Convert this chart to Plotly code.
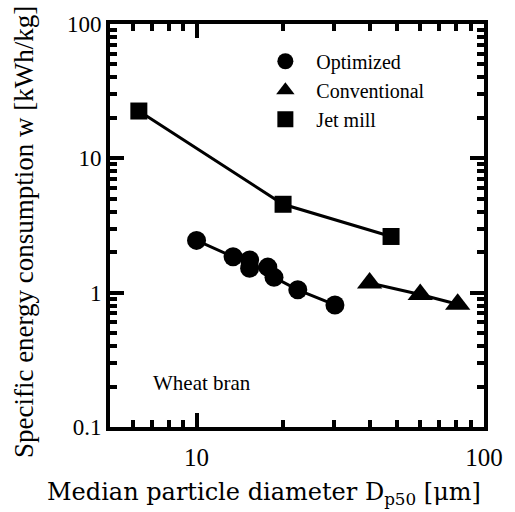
import plotly.graph_objects as go

# Data
opt_x = [10.0, 13.4, 15.3, 15.3, 17.7, 18.6, 22.5, 30.3]
opt_y = [2.45, 1.85, 1.75, 1.52, 1.55, 1.30, 1.05, 0.81]
conv_x = [40.0, 60.0, 81.0]
conv_y = [1.18, 0.97, 0.82]
jet_x = [6.3, 20.0, 47.5]
jet_y = [22.5, 4.55, 2.62]

series_names = ["Optimized", "Conventional", "Jet mill"]

FONT = "Liberation Serif, Times New Roman, serif"
WIDE = "DejaVu Serif, serif"
BLACK = "#000000"

fig = go.Figure()

def add_series(x, y, name, symbol, size):
    fig.add_trace(go.Scatter(
        x=x, y=y, mode="lines+markers", showlegend=False,
        line=dict(color=BLACK, width=3),
        marker=dict(symbol=symbol, size=size, color=BLACK),
    ))
    fig.add_trace(go.Scatter(
        x=[None], y=[None], mode="markers", name=name,
        marker=dict(symbol=symbol, size=size, color=BLACK),
    ))

add_series(opt_x, opt_y, series_names[0], "circle", 19)
add_series(conv_x, conv_y, series_names[1], "triangle-up", 22)
add_series(jet_x, jet_y, series_names[2], "square", 17)

x_minor = [6, 7, 8, 9, 20, 30, 40, 50, 60, 70, 80, 90]
y_minor = [m * 10 ** e for e in (-1, 0, 1) for m in range(2, 10)]

axis_common = dict(
    type="log", showgrid=False, zeroline=False,
    showline=True, linecolor=BLACK, linewidth=4, mirror="ticks",
    ticks="inside", ticklen=14, tickwidth=3.5, tickcolor=BLACK,
)

fig.update_xaxes(
    **axis_common,
    range=[0.69897, 2.0],
    tickvals=[10, 100], ticktext=["10", "100"],
    tickfont=dict(family=FONT, size=25, color=BLACK),
    ticklabelstandoff=5,
    minor=dict(tickvals=x_minor, ticks="inside", ticklen=7, tickwidth=3.5, tickcolor=BLACK),
)
fig.update_yaxes(
    **axis_common,
    range=[-1, 2],
    tickvals=[0.1, 1, 10, 100], ticktext=["0.1", "1", "10", "100"],
    tickfont=dict(family=FONT, size=23, color=BLACK),
    minor=dict(tickvals=y_minor, ticks="inside", ticklen=7, tickwidth=3.5, tickcolor=BLACK),
)

fig.add_annotation(
    text="Median particle diameter D<sub>p50</sub> [\u03bcm]",
    xref="paper", yref="paper", x=0.413, y=-0.165,
    xanchor="center", yanchor="middle", showarrow=False,
    font=dict(family=WIDE, size=24, color=BLACK),
)
fig.add_annotation(
    text="Specific energy consumption w [kWh/kg]",
    xref="paper", yref="paper", x=-0.228, y=0.483, textangle=-90,
    xanchor="center", yanchor="middle", showarrow=False,
    font=dict(family=FONT, size=27, color=BLACK),
)
fig.add_annotation(
    text="Wheat bran",
    xref="paper", yref="paper", x=0.11, y=0.11,
    xanchor="left", yanchor="middle", showarrow=False,
    font=dict(family=FONT, size=21, color=BLACK),
)

fig.update_layout(
    width=515, height=512,
    margin=dict(l=110, r=27, t=24, b=85),
    paper_bgcolor="white", plot_bgcolor="white",
    font=dict(family=FONT, size=20, color=BLACK),
    legend=dict(
        x=0.386, y=0.956, xanchor="left", yanchor="top",
        bgcolor="rgba(0,0,0,0)", borderwidth=0,
        font=dict(family=FONT, size=20, color=BLACK),
        itemsizing="trace", itemwidth=52,
    ),
)

fig.write_html("out.html")
